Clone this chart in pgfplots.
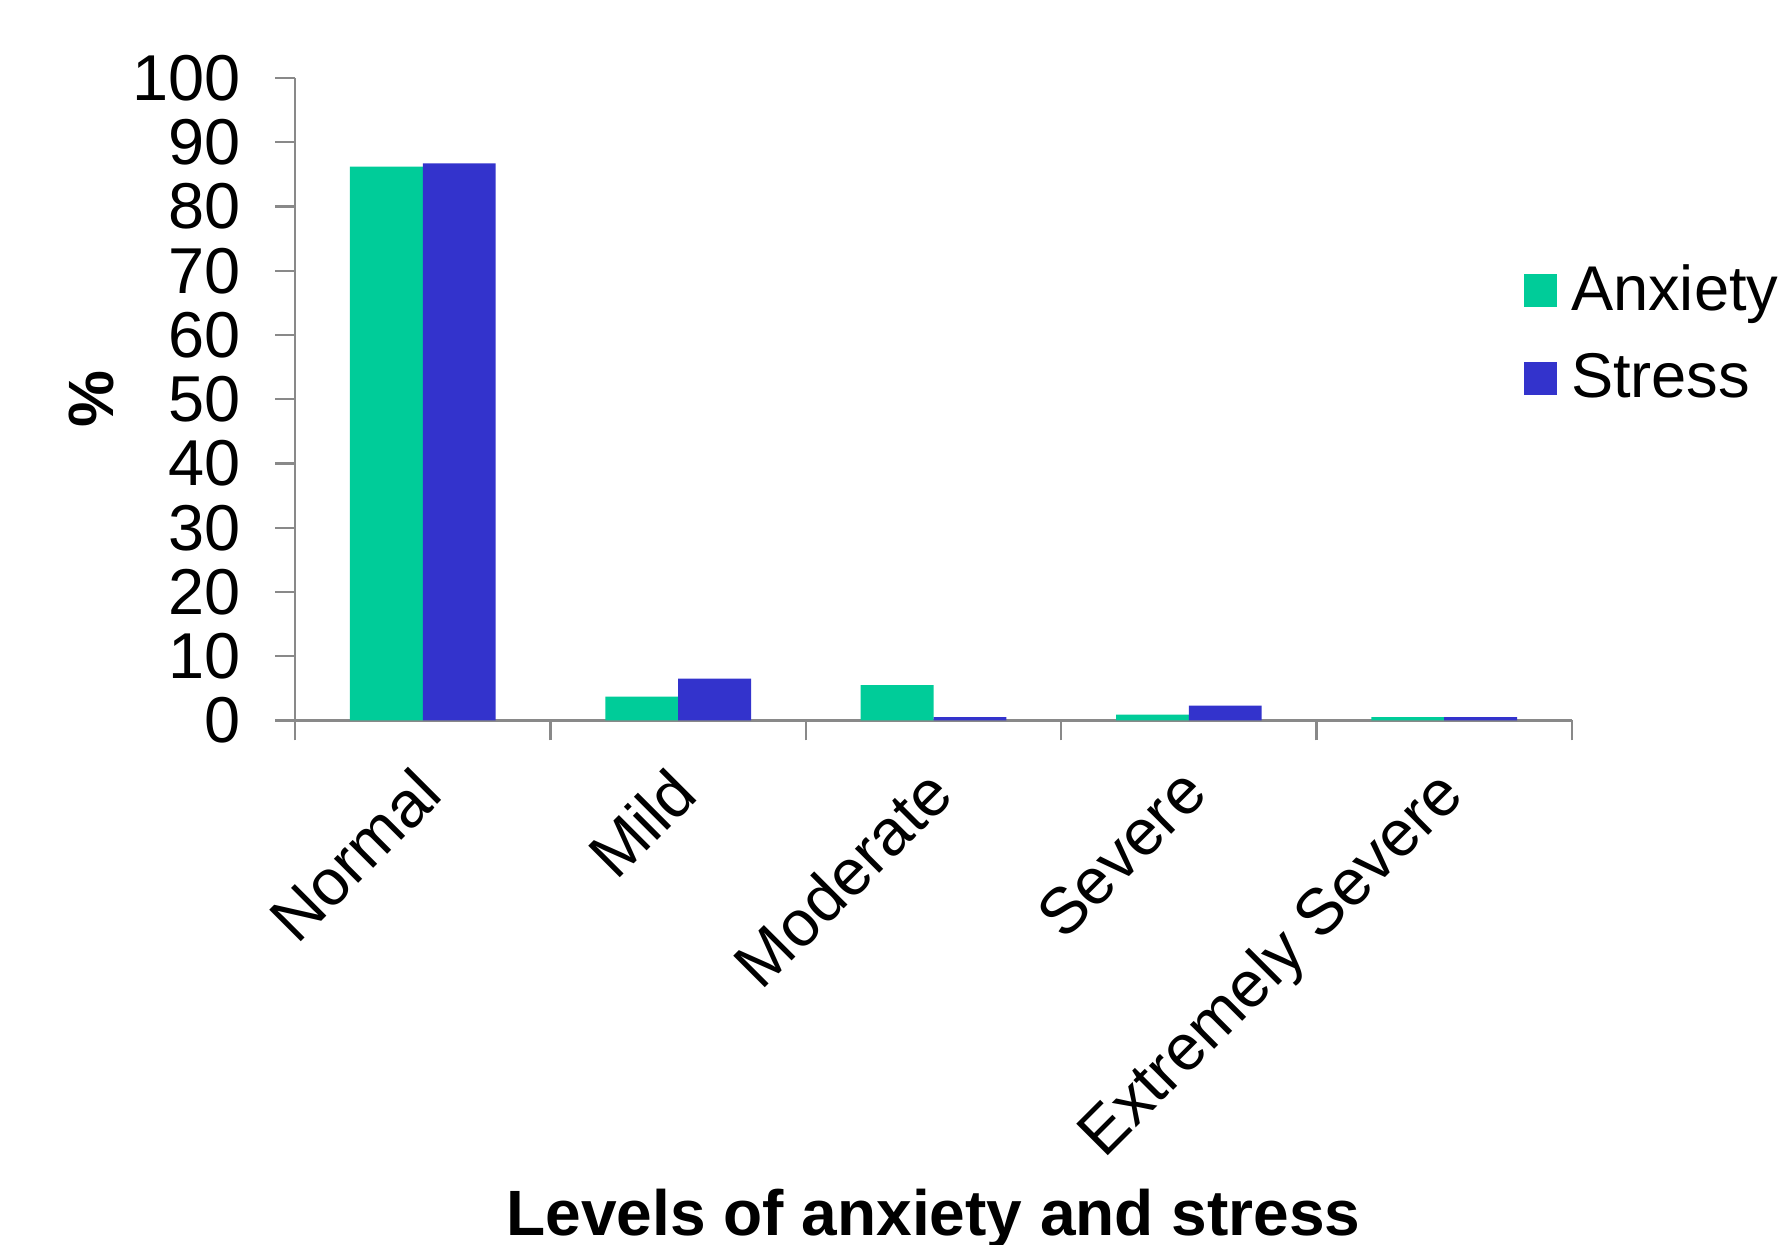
\documentclass[border=0pt]{standalone}
\usepackage{fontspec}
\setmainfont{Liberation Sans}
\usepackage{pgfplots}
\pgfplotsset{compat=1.18}
\usetikzlibrary{calc}
\definecolor{anx}{RGB}{0,204,153}
\definecolor{str}{RGB}{51,51,204}
\definecolor{axgray}{RGB}{137,137,137}
\begin{document}
\begin{tikzpicture}
  \begin{axis}[
    name=ax,
    scale only axis,
    width=319pt, height=160.5pt,
    ybar=0pt, bar width=18.2pt,
    xmin=-0.5, xmax=4.5,
    ymin=0, ymax=100,
    ytick={0,10,...,100},
    xtick={-0.5,0.5,1.5,2.5,3.5,4.5},
    x tick label as interval,
    xticklabels={Normal,Mild,Moderate,Severe,Extremely Severe},
    axis lines*=left,
    axis line style={axgray, line width=0.6pt},
    tick style={axgray, line width=0.6pt},
    tick align=outside,
    major tick length=5pt,
    /pgf/number format/assume math mode=true,
    tick label style={font=\fontsize{16.2}{19}\selectfont},
    yticklabel style={xshift=-5pt},
    xticklabel style={xshift=-2.8pt, yshift=-5.7pt, rotate=45, anchor=north east, inner sep=0pt},
    ylabel={\%},
    ylabel style={font=\bfseries\fontsize{16}{19}\selectfont, at={(axis description cs:0,0.5)}, anchor=center, yshift=51pt},
    xlabel={Levels of anxiety and stress},
    xlabel style={font=\bfseries\fontsize{16}{19}\selectfont, at={(axis description cs:0.5,0)}, anchor=base, yshift=-128.75pt},
    legend style={draw=none, at={(0.962,0.723)}, anchor=north west, inner sep=0pt,
      font=\fontsize{15.8}{19}\selectfont, row sep=5.2pt,
      /tikz/every odd column/.append style={column sep=1.4pt}},
    legend cell align=left,
    legend image code/.code={\fill[#1] (0pt,-4.15pt) rectangle (8.3pt,4.15pt);},
  ]
  \addplot[fill=anx, draw=none] coordinates {(0,86.2) (1,3.7) (2,5.5) (3,0.9) (4,0.5)};
  \addplot[fill=str, draw=none] coordinates {(0,86.7) (1,6.5) (2,0.5) (3,2.3) (4,0.5)};
  \legend{Anxiety,Stress}
  \end{axis}
  \pgfresetboundingbox
  \path[use as bounding box] ($(ax.south west)+(-73.75pt,-131pt)$) rectangle ($(ax.north east)+(52pt,19.5pt)$);
\end{tikzpicture}
\end{document}
